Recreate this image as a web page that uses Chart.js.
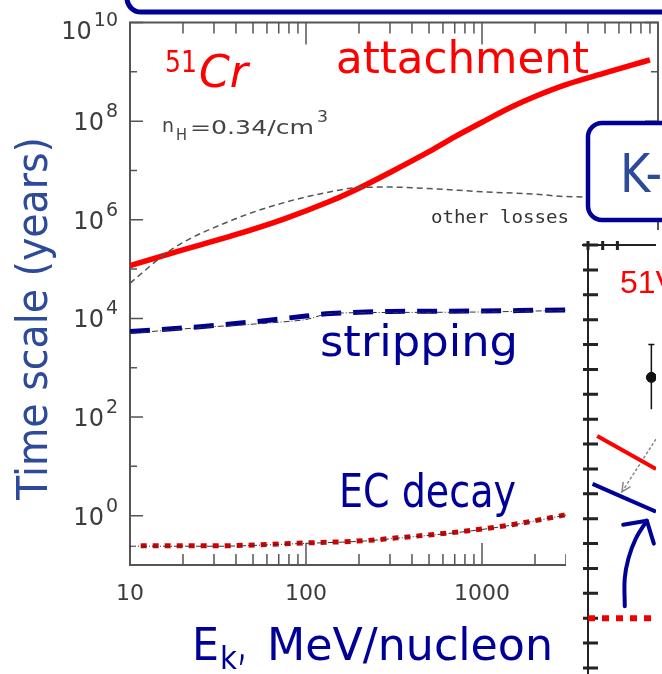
<!DOCTYPE html>
<html>
<head>
<meta charset="utf-8">
<script src="https://cdn.jsdelivr.net/npm/chart.js@4.4.1/dist/chart.umd.min.js"></script>
<style>
    html, body { margin: 0; padding: 0; background: #fff; }
    #wrap { position: relative; width: 662px; height: 674px; overflow: hidden; }
    #mainChart { position: absolute; left: 0; top: 0; }
    #insetChart { position: absolute; left: 566px; top: 230px; background: #fff; }
</style>
</head>
<body>
<div id="wrap">
    <canvas id="mainChart" width="662" height="674"></canvas>
    <canvas id="insetChart" width="96" height="444"></canvas>
</div>
<script>
// Ek in MeV/nucleon, time scales in years (51Cr, nH = 0.34/cm3)
var attachE = [10, 17.5, 38.5, 74, 138, 200, 300, 500, 700, 1000, 1500, 2000, 3000, 5000, 7000, 9000];
var attachT = [1.17e5, 2.14e5, 4.8e5, 1.02e6, 2.4e6, 4.37e6, 9.1e6, 2.4e7, 4.8e7, 9.5e7, 2.0e8, 3.16e8, 5.5e8, 9.5e8, 1.35e9, 1.74e9];

var otherE = [10, 17.5, 38.5, 74, 138, 200, 300, 500, 1000, 2000, 3000, 4000];
var otherT = [5.2e4, 2.6e5, 1.0e6, 2.2e6, 3.7e6, 4.5e6, 4.6e6, 4.3e6, 3.7e6, 3.3e6, 2.95e6, 2.9e6];

var stripE = [10, 25, 60, 100, 138, 200, 300, 1000, 3000, 5000];
var stripT = [5.4e3, 6.8e3, 9.1e3, 1.12e4, 1.26e4, 1.33e4, 1.38e4, 1.41e4, 1.48e4, 1.48e4];

var stripOrigE = [10, 25, 80, 100, 138, 300, 1000, 3000, 5000];
var stripOrigT = [5.0e3, 6.5e3, 8.7e3, 9.5e3, 1.26e4, 1.32e4, 1.35e4, 1.45e4, 1.48e4];

var ecE = [11.5, 30, 100, 210, 330, 780, 1500, 2300, 3000, 5000];
var ecT = [0.245, 0.245, 0.28, 0.31, 0.355, 0.48, 0.66, 0.87, 1.05, 1.6];

var ecOrigE = [10, 30, 100, 210, 330, 780, 1500, 2300, 3000, 5000];
var ecOrigT = [0.24, 0.24, 0.275, 0.305, 0.35, 0.47, 0.65, 0.86, 1.03, 1.6];

var xTickValues = [10, 100, 1000];
var yTickPowers = [0, 2, 4, 6, 8, 10];

// inset (51V panel), arbitrary units
var insetRedX = [0.625, 4.625], insetRedY = [9.32, 8.0];
var insetBlueX = [0.31, 4.625], insetBlueY = [7.4, 6.28];
var insetDotX = [0, 4.625], insetDotY = [2.0, 2.0];
var insetGrayX = [4.625, 2.31], insetGrayY = [9.2, 7.08];
var insetCurveX = [2.5, 2.5, 2.75, 3.25, 4.0], insetCurveY = [2.48, 3.6, 4.4, 5.2, 5.92];
var insetPtX = [4.31], insetPtY = [11.68], insetPtLo = [10.4], insetPtHi = [13.0];

var FONT = 'DejaVu Sans';

function pts(xs, ys) {
    var out = [];
    for (var i = 0; i < xs.length; i++) out.push({ x: xs[i], y: ys[i] });
    return out;
}

// draws text squeezed/stretched to a given width
function fitText(ctx, text, x, y, w, font, color) {
    ctx.save();
    ctx.font = font;
    ctx.fillStyle = color;
    ctx.textAlign = 'left';
    ctx.textBaseline = 'alphabetic';
    var m = ctx.measureText(text).width;
    ctx.translate(x, y);
    ctx.scale(w / m, 1);
    ctx.fillText(text, 0, 0);
    ctx.restore();
}

function arrowHead(ctx, from, tip, len, ang) {
    var a = Math.atan2(tip.y - from.y, tip.x - from.x);
    ctx.beginPath();
    ctx.moveTo(tip.x - len * Math.cos(a - ang), tip.y - len * Math.sin(a - ang));
    ctx.lineTo(tip.x, tip.y);
    ctx.lineTo(tip.x - len * Math.cos(a + ang), tip.y - len * Math.sin(a + ang));
    ctx.stroke();
}

var mainDecor = {
    id: 'mainDecor',
    beforeDatasetsDraw: function (chart) {
        var ctx = chart.ctx, a = chart.chartArea;
        var xs = chart.scales.x, ys = chart.scales.y;
        ctx.save();
        ctx.strokeStyle = '#555';
        ctx.lineWidth = 2;
        ctx.strokeRect(a.left, a.top, a.right - a.left, a.bottom - a.top);
        ctx.lineWidth = 1.5;
        ctx.beginPath();
        for (var p = -1; p <= 10; p++) {
            var py = ys.getPixelForValue(Math.pow(10, p));
            var len = (p % 2 === 0) ? 13 : 7;
            ctx.moveTo(a.left, py); ctx.lineTo(a.left + len, py);
            ctx.moveTo(a.right, py); ctx.lineTo(a.right - len, py);
        }
        for (var d = 1; d <= 3; d++) {
            for (var m = 1; m <= 9; m++) {
                var v = m * Math.pow(10, d);
                if (v <= 10) continue;
                var px = xs.getPixelForValue(v);
                var l = (m === 1) ? 22 : 11;
                ctx.moveTo(px, a.bottom); ctx.lineTo(px, a.bottom - l);
                ctx.moveTo(px, a.top); ctx.lineTo(px, a.top + l);
            }
        }
        ctx.stroke();
        ctx.restore();
    },
    afterDraw: function (chart) {
        var ctx = chart.ctx, a = chart.chartArea;
        var xs = chart.scales.x, ys = chart.scales.y;
        ctx.save();

        // tick labels
        ctx.fillStyle = '#3c3c3c';
        ctx.textBaseline = 'alphabetic';
        yTickPowers.forEach(function (pw) {
            var cy = Math.max(ys.getPixelForValue(Math.pow(10, pw)), 30);
            var sup = String(pw);
            ctx.font = '19px ' + FONT;
            ctx.textAlign = 'right';
            var sw = ctx.measureText(sup).width;
            ctx.fillText(sup, 118, cy - 4);
            ctx.font = '24px ' + FONT;
            ctx.fillText('10', 118 - sw - 2, cy + 9);
        });
        ctx.font = '22px ' + FONT;
        ctx.textAlign = 'center';
        xTickValues.forEach(function (v) {
            ctx.fillText(String(v), xs.getPixelForValue(v), 600);
        });

        // axis titles
        ctx.save();
        ctx.translate(47, 500);
        ctx.rotate(-Math.PI / 2);
        fitText(ctx, 'Time scale (years)', 0, 0, 363, '42px ' + FONT, '#2e4b9b');
        ctx.restore();
        var navy = '#000099';
        fitText(ctx, 'E', 192, 660, 27, '45px ' + FONT, navy);
        fitText(ctx, 'k', 220, 669, 17, '32px ' + FONT, navy);
        fitText(ctx, ',', 238, 660, 8, '45px ' + FONT, navy);
        fitText(ctx, 'MeV/nucleon', 267, 660, 286, '45px ' + FONT, navy);

        // curve labels
        fitText(ctx, 'attachment', 336, 73, 253, '44px ' + FONT, '#ff0000');
        fitText(ctx, '51', 165, 72, 32, '30px ' + FONT, '#ff0000');
        fitText(ctx, 'Cr', 199, 87, 49, 'italic 44px ' + FONT, '#ff0000');
        fitText(ctx, 'stripping', 320, 356, 198, '42px ' + FONT, navy);
        fitText(ctx, 'EC decay', 339, 507, 177, '46px ' + FONT, navy);

        var gray = '#444';
        fitText(ctx, 'n', 162, 132, 12, '19px ' + FONT, gray);
        fitText(ctx, 'H', 176, 140, 11, '15px ' + FONT, gray);
        fitText(ctx, '=0.34/cm', 190, 134, 124, '19px ' + FONT, gray);
        fitText(ctx, '3', 317, 122, 11, '16px ' + FONT, gray);
        fitText(ctx, 'other losses', 431, 223, 138, '17px DejaVu Sans Mono', '#333');

        // boxes from the slide
        ctx.lineWidth = 5;
        ctx.strokeStyle = navy;
        ctx.beginPath();
        ctx.roundRect(127, -40, 600, 52, 14);
        ctx.stroke();

        ctx.lineWidth = 4.5;
        ctx.fillStyle = '#fff';
        ctx.beginPath();
        ctx.roundRect(588, 123, 120, 97, 14);
        ctx.fill();
        ctx.stroke();
        fitText(ctx, 'K-', 620, 192, 42, '53px ' + FONT, '#2e4b9b');

        ctx.restore();
    }
};

var insetDecor = {
    id: 'insetDecor',
    beforeDatasetsDraw: function (chart) {
        var ctx = chart.ctx, a = chart.chartArea;
        var xs = chart.scales.x, ys = chart.scales.y;
        ctx.save();
        ctx.strokeStyle = '#222';
        ctx.lineWidth = 2;
        ctx.beginPath();
        ctx.moveTo(a.left, a.top - 4); ctx.lineTo(a.left, chart.height);
        ctx.moveTo(a.left - 6, a.top); ctx.lineTo(a.right, a.top);
        ctx.stroke();
        ctx.lineWidth = 3;
        ctx.beginPath();
        for (var i = 0; i <= 17; i++) {
            var py = ys.getPixelForValue(i);
            ctx.moveTo(a.left - 5, py); ctx.lineTo(a.left + 10, py);
        }
        for (var j = 0; j <= 2; j++) {
            var px = xs.getPixelForValue(j);
            ctx.moveTo(px, a.top - 4); ctx.lineTo(px, a.top + 5);
        }
        ctx.stroke();
        ctx.restore();
    },
    afterDatasetsDraw: function (chart) {
        var ctx = chart.ctx;
        var xs = chart.scales.x, ys = chart.scales.y;
        ctx.save();
        // error bar on the data point
        ctx.strokeStyle = '#111';
        ctx.lineWidth = 1.5;
        ctx.beginPath();
        for (var i = 0; i < insetPtX.length; i++) {
            var px = xs.getPixelForValue(insetPtX[i]);
            var lo = ys.getPixelForValue(insetPtLo[i]);
            var hi = ys.getPixelForValue(insetPtHi[i]);
            ctx.moveTo(px, lo); ctx.lineTo(px, hi);
            ctx.moveTo(px - 3, hi); ctx.lineTo(px + 3, hi);
        }
        ctx.stroke();

        // arrow heads
        var grayMeta = chart.getDatasetMeta(4).data;
        ctx.strokeStyle = '#888';
        ctx.lineWidth = 1.5;
        arrowHead(ctx, grayMeta[0], grayMeta[1], 10, 0.45);
        var curveMeta = chart.getDatasetMeta(3).data;
        ctx.strokeStyle = '#000099';
        ctx.lineWidth = 4;
        ctx.lineCap = 'round';
        ctx.lineJoin = 'round';
        arrowHead(ctx, curveMeta[curveMeta.length - 2], curveMeta[curveMeta.length - 1], 24, 0.85);

        ctx.font = '32px Liberation Sans';
        ctx.fillStyle = '#ff0000';
        ctx.textAlign = 'left';
        ctx.fillText('51V', 54, 63);
        ctx.restore();
    }
};

function lineSet(data, color, width, dash, extra) {
    var ds = {
        data: data,
        borderColor: color,
        borderWidth: width,
        borderDash: dash || [],
        pointRadius: 0,
        fill: false,
        cubicInterpolationMode: 'monotone'
    };
    for (var k in extra || {}) ds[k] = extra[k];
    return ds;
}

function setupMainChart() {
    var ctx = document.getElementById('mainChart').getContext('2d');
    new Chart(ctx, {
        type: 'line',
        data: {
            datasets: [
                lineSet(pts(otherE, otherT), '#555', 1.5, [6, 4]),
                lineSet(pts(stripOrigE, stripOrigT), '#333', 1, [6, 2, 1, 2]),
                lineSet(pts(ecOrigE, ecOrigT), '#333', 1, [6, 2, 1, 2]),
                lineSet(pts(attachE, attachT), '#ff0000', 5.5),
                lineSet(pts(stripE, stripT), '#000090', 5, [20, 12]),
                lineSet(pts(ecE, ecT), '#d40000', 5, [6, 6])
            ]
        },
        options: {
            responsive: false,
            devicePixelRatio: 1,
            animation: false,
            events: [],
            layout: { padding: { left: 130, top: 22.5, right: 4, bottom: 109 } },
            plugins: { legend: { display: false }, tooltip: { enabled: false } },
            scales: {
                x: { type: 'logarithmic', min: 10, max: 10000, display: false },
                y: { type: 'logarithmic', min: 0.1, max: 1e10, display: false }
            }
        },
        plugins: [mainDecor]
    });
}

function setupInsetChart() {
    var ctx = document.getElementById('insetChart').getContext('2d');
    new Chart(ctx, {
        type: 'line',
        data: {
            datasets: [
                lineSet(pts(insetRedX, insetRedY), '#ff0000', 4),
                lineSet(pts(insetBlueX, insetBlueY), '#000099', 4),
                lineSet(pts(insetDotX, insetDotY), '#ee0000', 6, [7, 7]),
                lineSet(pts(insetCurveX, insetCurveY), '#000099', 4, [], { cubicInterpolationMode: 'default', tension: 0.4, borderCapStyle: 'round' }),
                lineSet(pts(insetGrayX, insetGrayY), '#888', 1.5, [3, 2]),
                {
                    type: 'scatter',
                    data: pts(insetPtX, insetPtY),
                    pointRadius: 5,
                    pointBackgroundColor: '#111',
                    pointBorderColor: '#111'
                }
            ]
        },
        options: {
            responsive: false,
            devicePixelRatio: 1,
            animation: false,
            events: [],
            layout: { padding: { left: 22, top: 15, right: 0, bottom: 4 } },
            plugins: { legend: { display: false }, tooltip: { enabled: false } },
            scales: {
                x: { type: 'linear', min: 0, max: 4.625, display: false },
                y: { type: 'linear', min: 0, max: 17, display: false }
            }
        },
        plugins: [insetDecor]
    });
}

setupMainChart();
setupInsetChart();
</script>
</body>
</html>
